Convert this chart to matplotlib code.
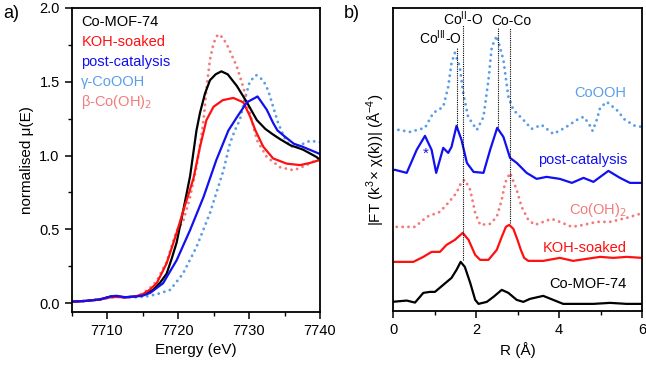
import matplotlib
matplotlib.use("Agg")
import matplotlib.pyplot as plt
from matplotlib.ticker import MultipleLocator

plt.rcParams['font.family'] = ['Liberation Sans', 'DejaVu Sans']

# Colores de las series
C_MOF = 'black'
C_KOH = '#ff1010'
C_POST = '#1010f0'
C_OOH = '#5a9ee8'
C_OH2 = '#f47a7a'

# ---- a) XANES ----
e_mof = [7705, 7707, 7709, 7710.5, 7711.5, 7712.5, 7714, 7715, 7716.5, 7717.5, 7718.4, 7719.1,
         7719.8, 7720.7, 7721.7, 7722.6, 7723.1, 7723.8, 7724.5, 7725.3, 7726.1, 7727.0, 7728.3,
         7729.7, 7731.1, 7732.3, 7733.3, 7734.4, 7735.8, 7737.6, 7739.5, 7740]
mu_mof = [0.01, 0.015, 0.025, 0.045, 0.045, 0.04, 0.045, 0.055, 0.09, 0.14, 0.20, 0.30,
          0.41, 0.62, 0.86, 1.17, 1.29, 1.42, 1.51, 1.55, 1.57, 1.55, 1.47,
          1.36, 1.24, 1.18, 1.145, 1.11, 1.07, 1.04, 0.99, 0.97]

e_koh = [7705, 7707, 7709, 7710.5, 7711.5, 7712.5, 7714, 7715, 7716, 7717, 7718.4, 7719.8,
         7720.7, 7721.5, 7722.2, 7723.1, 7723.6, 7724.0, 7725.0, 7726.3, 7727.8, 7729.2,
         7730.1, 7730.9, 7732.0, 7733.4, 7735.3, 7737.2, 7738.6, 7740]
mu_koh = [0.01, 0.015, 0.025, 0.04, 0.042, 0.038, 0.045, 0.06, 0.09, 0.135, 0.27, 0.475,
          0.62, 0.74, 0.85, 1.06, 1.16, 1.24, 1.33, 1.375, 1.39, 1.36,
          1.27, 1.17, 1.06, 0.98, 0.945, 0.935, 0.95, 0.97]

e_post = [7705, 7707, 7709, 7710.5, 7711.3, 7712.5, 7714, 7715, 7716.1, 7717.9, 7719.8, 7721.7,
          7723.6, 7725.4, 7727.1, 7728.3, 7729.7, 7731.2, 7732.5, 7733.4, 7734.0, 7735.0,
          7736.3, 7737.5, 7740]
mu_post = [0.01, 0.015, 0.025, 0.045, 0.05, 0.04, 0.045, 0.05, 0.07, 0.135, 0.29, 0.495,
           0.72, 0.97, 1.17, 1.26, 1.36, 1.40, 1.31, 1.22, 1.17, 1.13,
           1.08, 1.06, 1.01]

e_ooh = [7705, 7707, 7709, 7710.5, 7711.5, 7712.5, 7714, 7715.5, 7717, 7718.9, 7720.7, 7722.6,
         7724.5, 7726.4, 7727.3, 7728.0, 7728.7, 7729.4, 7730.1, 7731.0, 7732.0, 7732.7,
         7733.4, 7734.1, 7735.0, 7735.8, 7737.2, 7738.6, 7740]
mu_ooh = [0.01, 0.015, 0.025, 0.04, 0.045, 0.04, 0.04, 0.045, 0.06, 0.09, 0.20, 0.38,
          0.61, 0.90, 1.08, 1.17, 1.24, 1.38, 1.50, 1.545, 1.51, 1.44,
          1.33, 1.22, 1.12, 1.06, 1.07, 1.10, 1.09]

e_oh2 = [7705, 7707, 7709, 7710.5, 7711.5, 7712.5, 7714, 7715, 7716, 7717, 7718.4, 7719.8,
         7720.7, 7721.7, 7722.6, 7723.1, 7723.6, 7724.0, 7724.5, 7725.0, 7725.6, 7726.3,
         7727.1, 7728.3, 7729.2, 7729.9, 7731.1, 7732.5, 7734.4, 7736.3, 7738.1, 7740]
mu_oh2 = [0.01, 0.015, 0.025, 0.04, 0.042, 0.038, 0.045, 0.065, 0.10, 0.15, 0.28, 0.49,
          0.55, 0.72, 0.92, 1.07, 1.24, 1.45, 1.65, 1.76, 1.82, 1.80,
          1.73, 1.60, 1.46, 1.33, 1.105, 0.99, 0.92, 0.90, 0.935, 0.98]

# ---- b) FT-EXAFS (amplitud sobre la línea base de cada curva) ----
r_mof = [0.0, 0.05, 0.33, 0.53, 0.73, 0.89, 1.01, 1.21, 1.41, 1.53, 1.63, 1.73, 1.86, 1.98,
         2.06, 2.26, 2.42, 2.62, 2.78, 2.98, 3.14, 3.30, 3.62, 3.86, 4.10, 4.42, 4.83, 5.23,
         5.63, 6.0]
ft_mof = [0.02, 0.023, 0.033, 0.013, 0.11, 0.12, 0.12, 0.19, 0.26, 0.34, 0.42, 0.37, 0.21, 0.04,
          0.0, 0.02, 0.07, 0.14, 0.11, 0.04, 0.02, 0.05, 0.08, 0.04, 0.0, 0.0, 0.0, 0.01,
          0.0, 0.0]

r_koh = [0.0, 0.49, 0.73, 0.93, 1.13, 1.29, 1.49, 1.68, 1.82, 1.98, 2.10, 2.30, 2.50, 2.62,
         2.72, 2.80, 2.90, 3.00, 3.08, 3.16, 3.26, 3.62, 4.02, 4.34, 4.66, 4.99, 5.31, 5.63, 6.0]
ft_koh = [0.0, 0.0, 0.05, 0.10, 0.10, 0.17, 0.22, 0.29, 0.22, 0.07, 0.02, 0.02, 0.12, 0.25,
          0.35, 0.37, 0.33, 0.22, 0.12, 0.04, 0.01, 0.01, 0.04, 0.01, 0.03, 0.05, 0.04, 0.05, 0.04]

r_oh2 = [0.09, 0.53, 0.81, 1.13, 1.33, 1.53, 1.65, 1.73, 1.86, 1.98, 2.10, 2.34, 2.50, 2.62,
         2.70, 2.82, 2.98, 3.10, 3.26, 3.42, 3.62, 3.82, 4.02, 4.31, 4.59, 4.91, 5.23, 5.63, 5.95]
ft_oh2 = [0.0, 0.0, 0.10, 0.15, 0.24, 0.34, 0.45, 0.47, 0.37, 0.14, 0.02, 0.03, 0.10, 0.27,
          0.44, 0.54, 0.37, 0.20, 0.07, 0.02, 0.05, 0.08, 0.05, 0.0, 0.02, 0.05, 0.05, 0.09, 0.13]

r_post = [0.0, 0.05, 0.33, 0.57, 0.77, 0.93, 1.04, 1.21, 1.33, 1.41, 1.53, 1.65, 1.78, 1.94,
          2.18, 2.34, 2.51, 2.66, 2.82, 2.98, 3.22, 3.46, 3.70, 4.02, 4.31, 4.59, 4.83, 5.19,
          5.47, 5.71, 6.0]
ft_post = [0.15, 0.15, 0.12, 0.35, 0.49, 0.35, 0.12, 0.37, 0.32, 0.38, 0.59, 0.45, 0.22, 0.13,
           0.12, 0.35, 0.57, 0.48, 0.27, 0.22, 0.12, 0.06, 0.08, 0.06, 0.02, 0.07, 0.03, 0.14,
           0.07, 0.02, 0.02]

r_ooh = [0.13, 0.41, 0.77, 0.97, 1.21, 1.33, 1.41, 1.49, 1.61, 1.69, 1.81, 2.02, 2.18, 2.30,
         2.38, 2.50, 2.66, 2.78, 2.90, 3.14, 3.34, 3.58, 3.86, 4.14, 4.43, 4.59, 4.71, 4.81,
         4.91, 4.99, 5.15, 5.39, 5.59, 5.83, 6.0]
ft_ooh = [0.04, 0.02, 0.06, 0.21, 0.27, 0.47, 0.71, 0.81, 0.67, 0.41, 0.17, 0.04, 0.17, 0.54,
          0.87, 0.98, 0.74, 0.37, 0.24, 0.14, 0.05, 0.09, 0.0, 0.06, 0.14, 0.17, 0.11, 0.03,
          0.14, 0.26, 0.32, 0.24, 0.14, 0.08, 0.07]

offsets = {'mof': 0.07, 'koh': 0.49, 'oh2': 0.84, 'post': 1.26, 'ooh': 1.77}

fig = plt.figure(figsize=(6.46, 3.75), dpi=100)
ax1 = fig.add_axes([0.1107, 0.168, 0.3847, 0.811])
ax2 = fig.add_axes([0.6084, 0.171, 0.3854, 0.808])

dots = dict(linestyle=(0, (0.01, 2.0)), dash_capstyle='round', lw=2.1)

ax1.plot(e_ooh, mu_ooh, color=C_OOH, **dots)
ax1.plot(e_oh2, mu_oh2, color=C_OH2, **dots)
ax1.plot(e_mof, mu_mof, color=C_MOF, lw=1.6)
ax1.plot(e_koh, mu_koh, color=C_KOH, lw=1.6)
ax1.plot(e_post, mu_post, color=C_POST, lw=1.6)

ax1.set_xlim(7705, 7740)
ax1.set_ylim(-0.06, 2.0)
ax1.xaxis.set_major_locator(MultipleLocator(10))
ax1.xaxis.set_minor_locator(MultipleLocator(5))
ax1.yaxis.set_major_locator(MultipleLocator(0.5))
ax1.yaxis.set_minor_locator(MultipleLocator(0.25))
ax1.yaxis.set_major_formatter(lambda v, p: f"{v:.1f}")
ax1.set_xlabel('Energy (eV)', fontsize=11)
ax1.set_ylabel('normalised μ(E)', fontsize=11)

legend_txt = ['Co-MOF-74', 'KOH-soaked', 'post-catalysis', 'γ-CoOOH', 'β-Co(OH)$_2$']
legend_col = [C_MOF, C_KOH, C_POST, C_OOH, C_OH2]
for i, (t, c) in enumerate(zip(legend_txt, legend_col)):
    ax1.text(0.04, 0.955 - i * 0.066, t, color=c, fontsize=10.5,
             transform=ax1.transAxes, va='center', ha='left')

# panel b
ax2.plot(r_ooh, [v + offsets['ooh'] for v in ft_ooh], color=C_OOH, **dots)
ax2.plot(r_post, [v + offsets['post'] for v in ft_post], color=C_POST, lw=1.6)
ax2.plot(r_oh2, [v + offsets['oh2'] for v in ft_oh2], color=C_OH2, **dots)
ax2.plot(r_koh, [v + offsets['koh'] for v in ft_koh], color=C_KOH, lw=1.6)
ax2.plot(r_mof, [v + offsets['mof'] for v in ft_mof], color=C_MOF, lw=1.6)

# líneas de referencia
ax2.vlines([1.53], 1.84, 2.64, colors='black', linestyles=(0, (1, 1)), lw=0.8)
ax2.vlines([1.68], 0.51, 2.86, colors='black', linestyles=(0, (1, 1)), lw=0.8)
ax2.vlines([2.54], 1.84, 2.83, colors='black', linestyles=(0, (1, 1)), lw=0.8)
ax2.vlines([2.82], 0.88, 2.83, colors='black', linestyles=(0, (1, 1)), lw=0.8)
ax2.text(1.68, 2.92, 'Co$^{\\mathregular{II}}$-O', ha='center', va='center', fontsize=10)
ax2.text(1.13, 2.73, 'Co$^{\\mathregular{III}}$-O', ha='center', va='center', fontsize=10)
ax2.text(2.86, 2.90, 'Co-Co', ha='center', va='center', fontsize=10)

ax2.text(5.0, 2.18, 'CoOOH', color=C_OOH, ha='center', va='center', fontsize=10.5)
ax2.text(4.58, 1.51, 'post-catalysis', color=C_POST, ha='center', va='center', fontsize=10.5)
ax2.text(4.94, 1.01, 'Co(OH)$_2$', color=C_OH2, ha='center', va='center', fontsize=10.5)
ax2.text(4.62, 0.63, 'KOH-soaked', color=C_KOH, ha='center', va='center', fontsize=10.5)
ax2.text(4.70, 0.27, 'Co-MOF-74', color=C_MOF, ha='center', va='center', fontsize=10.5)
ax2.text(0.79, 1.57, '*', color=C_POST, ha='center', va='center', fontsize=11)

ax2.set_xlim(0, 6)
ax2.set_ylim(0, 3.03)
ax2.xaxis.set_major_locator(MultipleLocator(2))
ax2.xaxis.set_minor_locator(MultipleLocator(1))
ax2.set_yticks([])
ax2.set_xlabel('R (Å)', fontsize=11)
ax2.set_ylabel('|FT (k$^{\\mathregular{3}}$× χ(k))| (Å$^{\\mathregular{-4}}$)', fontsize=11)

for ax in (ax1, ax2):
    for s in ax.spines.values():
        s.set_linewidth(1.3)
    ax.tick_params(which='major', direction='out', length=5, width=1.1, labelsize=10.5,
                   top=False, right=False)
    ax.tick_params(which='minor', direction='out', length=3, width=1.0, top=False, right=False)

fig.text(0.005, 0.965, 'a)', fontsize=13, va='center')
fig.text(0.532, 0.965, 'b)', fontsize=13, va='center')

fig.savefig('out.png', dpi=100)
